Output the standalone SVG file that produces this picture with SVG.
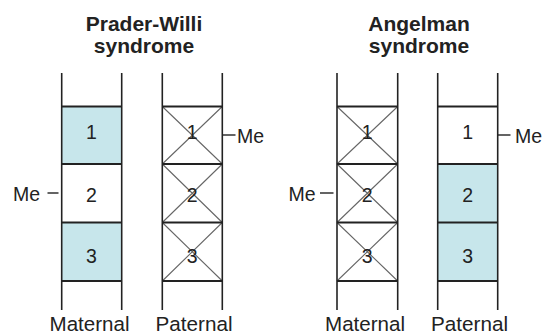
<svg xmlns="http://www.w3.org/2000/svg" width="543" height="334" viewBox="0 0 543 334">
<style>
text{font-family:"Liberation Sans",Arial,sans-serif;fill:#222}
.t{font-weight:bold;font-size:21px;text-anchor:middle}
.n{font-size:19.5px;text-anchor:middle}
.me{font-size:19.5px}
.lab{font-size:20.5px;text-anchor:middle}
.col{stroke:#222;stroke-width:1.6;fill:none}
.sep{stroke:#222;stroke-width:2;fill:none}
.x{stroke:#666;stroke-width:1.1;fill:none}
.blue{fill:#c7e6eb}
.tick{stroke:#222;stroke-width:1.4}
</style>
<rect width="543" height="334" fill="#fff"/>
<g id="title-pw">
<text class="t" x="144" y="30.7">Prader-Willi</text>
<text class="t" x="144" y="53.3">syndrome</text>
</g>
<g id="title-as">
<text class="t" x="419" y="30.7">Angelman</text>
<text class="t" x="419" y="53.3">syndrome</text>
</g>
<g id="pw-maternal">
<rect class="blue" x="61.7" y="106.5" width="60" height="57.5"/>
<rect class="blue" x="61.7" y="222.5" width="60" height="58.5"/>
<line class="col" x1="61.7" y1="73" x2="61.7" y2="310"/>
<line class="col" x1="121.7" y1="73" x2="121.7" y2="310"/>
<path class="sep" d="M61.7 106.5H121.7M61.7 164H121.7M61.7 222.5H121.7M61.7 281H121.7"/>
<text class="n" x="91.5" y="139">1</text>
<text class="n" x="91.5" y="201.5">2</text>
<text class="n" x="91.5" y="263">3</text>
<text class="lab" x="89.5" y="331" textLength="80" lengthAdjust="spacingAndGlyphs">Maternal</text>
</g>
<g id="pw-paternal">
<path class="x" d="M162.3 106.5L222.3 164M222.3 106.5L162.3 164M162.3 164L222.3 222.5M222.3 164L162.3 222.5M162.3 222.5L222.3 281M222.3 222.5L162.3 281"/>
<line class="col" x1="162.3" y1="73" x2="162.3" y2="310"/>
<line class="col" x1="222.3" y1="73" x2="222.3" y2="310"/>
<path class="sep" d="M162.3 106.5H222.3M162.3 164H222.3M162.3 222.5H222.3M162.3 281H222.3"/>
<text class="n" x="192.3" y="139">1</text>
<text class="n" x="192.3" y="201.5">2</text>
<text class="n" x="192.3" y="263">3</text>
<text class="lab" x="194" y="331" textLength="77" lengthAdjust="spacingAndGlyphs">Paternal</text>
</g>
<g id="as-maternal">
<path class="x" d="M337 106.5L397.7 164M397.7 106.5L337 164M337 164L397.7 222.5M397.7 164L337 222.5M337 222.5L397.7 281M397.7 222.5L337 281"/>
<line class="col" x1="337" y1="73" x2="337" y2="310"/>
<line class="col" x1="397.7" y1="73" x2="397.7" y2="310"/>
<path class="sep" d="M337 106.5H397.7M337 164H397.7M337 222.5H397.7M337 281H397.7"/>
<text class="n" x="367.3" y="139">1</text>
<text class="n" x="367.3" y="201.5">2</text>
<text class="n" x="367.3" y="263">3</text>
<text class="lab" x="365" y="331" textLength="80" lengthAdjust="spacingAndGlyphs">Maternal</text>
</g>
<g id="as-paternal">
<rect class="blue" x="437.7" y="164" width="60" height="117"/>
<line class="col" x1="437.7" y1="73" x2="437.7" y2="310"/>
<line class="col" x1="497.7" y1="73" x2="497.7" y2="310"/>
<path class="sep" d="M437.7 106.5H497.7M437.7 164H497.7M437.7 222.5H497.7M437.7 281H497.7"/>
<text class="n" x="467.7" y="139">1</text>
<text class="n" x="467.7" y="201.5">2</text>
<text class="n" x="467.7" y="263">3</text>
<text class="lab" x="469.5" y="331" textLength="77" lengthAdjust="spacingAndGlyphs">Paternal</text>
</g>
<g id="me-labels">
<line class="tick" x1="47.5" y1="193" x2="58.5" y2="193"/>
<text class="me" x="13" y="200.5">Me</text>
<line class="tick" x1="223" y1="135" x2="235.5" y2="135"/>
<text class="me" x="237" y="142.5">Me</text>
<line class="tick" x1="320" y1="193" x2="333.5" y2="193"/>
<text class="me" x="288.5" y="200.5">Me</text>
<line class="tick" x1="498" y1="135" x2="510.5" y2="135"/>
<text class="me" x="515" y="142.5">Me</text>
</g>
</svg>
